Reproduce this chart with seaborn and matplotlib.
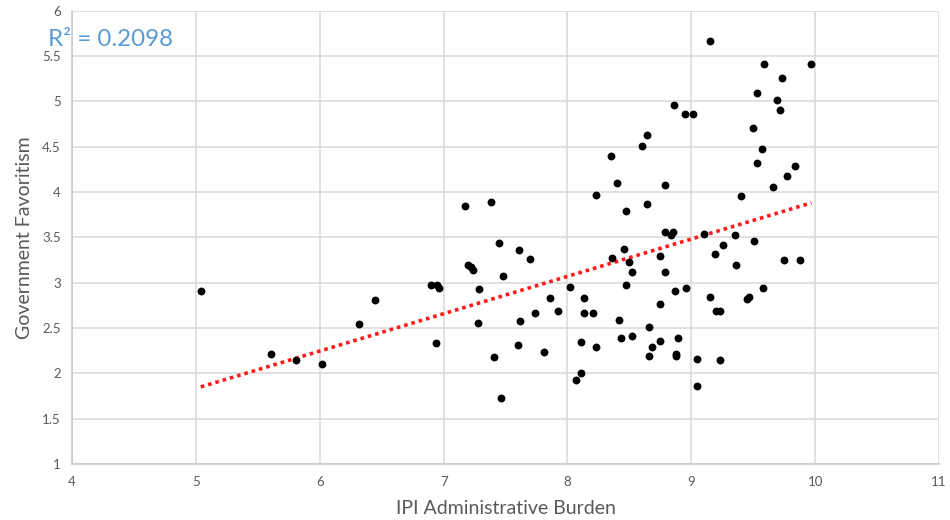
import matplotlib
matplotlib.use("Agg")
import matplotlib.pyplot as plt
import seaborn as sns
import numpy as np
import pandas as pd

ipi_burden = [
    5.04, 5.61, 5.81, 6.02, 6.32, 6.45, 6.90, 6.95, 6.96, 6.94,
    7.17, 7.38, 7.20, 7.22, 7.24, 7.45, 7.29, 7.28, 7.48, 7.61,
    7.70, 7.41, 7.46, 7.60, 7.62, 7.74, 7.86, 7.81, 7.92, 8.02,
    8.13, 8.13, 8.21, 8.42, 8.11, 8.23, 8.43, 8.52, 8.66, 8.68,
    8.66, 8.75, 8.89, 8.88, 8.88, 9.05, 9.23, 9.05, 8.11, 8.07,
    8.23, 8.35, 8.40, 8.60, 8.64, 8.86, 8.79, 8.64, 8.47, 8.79,
    8.85, 8.84, 9.10, 9.35, 9.26, 9.19, 9.51, 9.36, 9.40, 9.53,
    8.46, 8.36, 8.50, 8.52, 8.75, 8.79, 8.47, 8.75, 8.87, 8.96,
    9.15, 9.20, 9.23, 9.45, 9.47, 9.15, 9.585, 9.97, 9.73, 9.53,
    9.69, 9.72, 8.95, 9.01, 9.50, 9.57, 9.84, 9.77, 9.66, 9.75,
    9.88, 9.58,
]
gov_favoritism = [
    2.91, 2.21, 2.15, 2.10, 2.54, 2.81, 2.97, 2.97, 2.94, 2.33,
    3.84, 3.89, 3.19, 3.17, 3.14, 3.44, 2.93, 2.56, 3.07, 3.36,
    3.26, 2.18, 1.73, 2.31, 2.58, 2.66, 2.83, 2.23, 2.69, 2.955,
    2.83, 2.67, 2.67, 2.59, 2.345, 2.29, 2.39, 2.41, 2.51, 2.29,
    2.19, 2.36, 2.39, 2.21, 2.19, 2.16, 2.15, 1.86, 2.00, 1.93,
    3.97, 4.40, 4.10, 4.51, 4.63, 4.96, 4.08, 3.87, 3.79, 3.555,
    3.555, 3.52, 3.54, 3.52, 3.42, 3.32, 3.46, 3.19, 3.95, 4.32,
    3.37, 3.27, 3.23, 3.12, 3.29, 3.12, 2.97, 2.76, 2.91, 2.94,
    2.84, 2.69, 2.69, 2.82, 2.84, 5.66, 5.41, 5.41, 5.26, 5.09,
    5.01, 4.90, 4.86, 4.86, 4.71, 4.47, 4.29, 4.17, 4.05, 3.25,
    3.25, 2.94,
]
x_ticks = [4, 5, 6, 7, 8, 9, 10, 11]
y_ticks = [1, 1.5, 2, 2.5, 3, 3.5, 4, 4.5, 5, 5.5, 6]
y_tick_labels = ["1", "1.5", "2", "2.5", "3", "3.5", "4", "4.5", "5", "5.5", "6"]
r2_label = "R² = 0.2098"
x_label = "IPI Administrative Burden"
y_label = "Government Favoritism"

df = pd.DataFrame({"x": ipi_burden, "y": gov_favoritism})

sns.set_style("whitegrid")
plt.rcParams["font.family"] = ["Lato", "DejaVu Sans"]

fig = plt.figure(figsize=(9.5, 5.2), dpi=100)
ax = fig.add_axes([72 / 950, 1 - 464 / 520, (939 - 72) / 950, (464 - 10.5) / 520])

sns.regplot(data=df, x="x", y="y", scatter=False, ci=None, ax=ax,
            line_kws=dict(color="#ff1a1a", lw=2.6, linestyle=(0, (1, 1.1))))
sns.scatterplot(data=df, x="x", y="y", ax=ax, color="black", s=32,
                edgecolor="black", linewidth=0, zorder=3)

ax.set_xlim(4, 11)
ax.set_ylim(1, 6)
ax.set_xticks(x_ticks)
ax.set_yticks(y_ticks)
ax.set_yticklabels(y_tick_labels)
ax.grid(True, color="#d9d9d9", lw=1.1)
for s in ["top", "right"]:
    ax.spines[s].set_visible(False)
for s in ["left", "bottom"]:
    ax.spines[s].set_color("#c8c8c8")
    ax.spines[s].set_linewidth(1.1)
ax.tick_params(axis="both", colors="#595959", labelsize=9.5, length=0)
ax.tick_params(axis="x", pad=9)
ax.tick_params(axis="y", pad=8)
ax.set_xlabel(x_label, fontsize=14, color="#595959")
ax.set_ylabel(y_label, fontsize=14, color="#595959")
ax.xaxis.set_label_coords(0.5, -0.08)
ax.yaxis.set_label_coords(-0.045, 0.5)

fig.text(48 / 950, 1 - 40 / 520, r2_label, fontsize=17.4, color="#5b9bd5",
         va="center", ha="left")

fig.savefig("out.png", dpi=100)
